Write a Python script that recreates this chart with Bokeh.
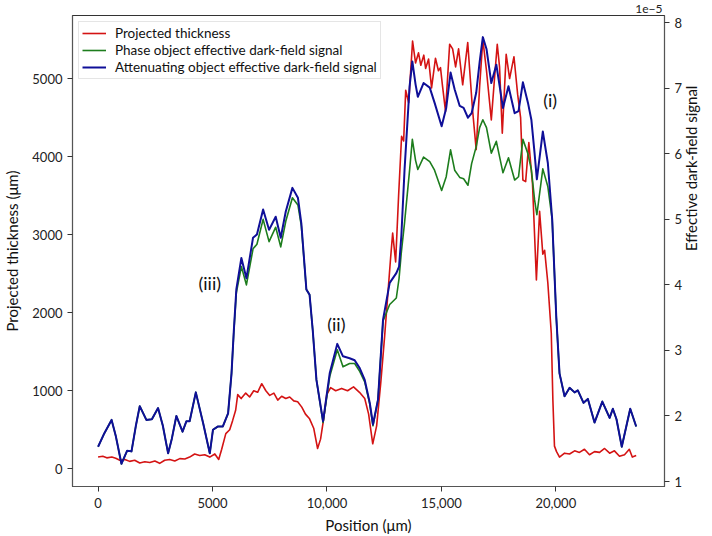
import math
from bokeh.plotting import figure
from bokeh.models import Range1d, LinearAxis, Label, FixedTicker, Title
from bokeh.embed import file_html
from bokeh.resources import INLINE

FONT = "Lato"

# Projected thickness (left axis, um)
red_pos = [0, 205, 380, 600, 770, 950, 1170, 1380, 1600, 1820, 2040, 2260, 2480, 2690, 2910,
           3130, 3350, 3570, 3790, 4000, 4220, 4440, 4660, 4880, 5100, 5270, 5400, 5580, 5750,
           5880, 6010, 6100, 6250, 6450, 6620, 6800, 6970, 7150, 7330, 7500, 7680, 7850, 8020,
           8200, 8370, 8550, 8720, 8900, 9060, 9240, 9420, 9590, 9720, 9860, 9990, 10160, 10380,
           10640, 10900, 11160, 11420, 11650, 11820, 12000, 12170, 12350, 12520, 12650, 12780,
           12870, 13000, 13130, 13260, 13350, 13440, 13570, 13740, 13870, 14000, 14100, 14230,
           14310, 14440, 14570, 14740, 14870, 14960, 15050, 15180, 15360, 15490, 15620, 15750,
           15930, 16150, 16360, 16520, 16670, 16810, 16970, 17180, 17320, 17440, 17540, 17660,
           17830, 17980, 18170, 18330, 18460, 18560, 18680, 18820, 18980, 19150, 19290, 19430,
           19510, 19650, 19800, 19870, 19940, 20030, 20160, 20380, 20600, 20820, 21030, 21250,
           21470, 21690, 21910, 22130, 22350, 22560, 22780, 23000, 23210, 23340, 23510]
red_val = [150, 160, 140, 150, 135, 110, 120, 95, 110, 75, 90, 80, 100, 70, 110,
           120, 100, 130, 125, 150, 190, 170, 180, 150, 190, 120, 250, 450, 500,
           620, 750, 950, 900, 970, 920, 1000, 980, 1090, 1000, 940, 970, 880, 930,
           900, 920, 870, 860, 790, 700, 640, 520, 260, 380, 650, 950, 1040, 1000,
           1030, 1000, 1050, 980, 900, 700, 320, 550, 1100, 1700, 2200, 2700,
           3020, 2650, 3500, 4260, 4200, 4850, 4690, 5480, 5200, 5330, 5170, 5300,
           5130, 5250, 4880, 5260, 5100, 5140, 4900, 4580, 5440, 5380, 5150, 5380,
           4920, 5460, 4600, 4090, 4900, 5500, 5100, 4470, 5000, 5440, 5150, 4300,
           5310, 5000, 5280, 4800, 4500, 3700, 3680, 4180, 3650, 2420, 3300, 2750,
           2800, 2380, 1740, 880, 290, 220, 150, 200, 190, 230, 210, 250,
           180, 220, 210, 260, 200, 230, 160, 180, 250, 150, 170]

# Effective dark-field signals (right axis, x 1e-5)
df_pos = [0, 250, 590, 770, 1020, 1270, 1460, 1650, 1820, 2110, 2350, 2620, 2830, 3060, 3220,
          3420, 3690, 3860, 4000, 4270, 4590, 4880, 5020, 5240, 5450, 5680, 5830, 5930, 6040,
          6260, 6480, 6770, 6940, 7210, 7470, 7760, 7980, 8200, 8490, 8730, 8880, 9100, 9240,
          9380, 9540, 9830, 10120, 10450, 10700, 10990, 11210, 11430, 11650, 11870, 12010,
          12230, 12450, 12740, 13030, 13150, 13250, 13390, 13610, 13730, 13870, 13970, 14220,
          14490, 14700, 15010, 15210, 15400, 15580, 15800, 15970, 16160, 16320, 16520, 16670,
          16810, 16970, 17180, 17400, 17690, 17930, 18200, 18370, 18560, 18780, 18930, 19070,
          19170, 19430, 19650, 19840, 20020, 20160, 20380, 20600, 20820, 20960, 21210, 21400,
          21690, 22030, 22350, 22490, 22650, 22880, 23250, 23510]
attenuating = [1.53, 1.72, 1.94, 1.70, 1.27, 1.47, 1.46, 1.85, 2.15, 1.94, 1.95, 2.12, 1.85, 1.43, 1.65,
               2.00, 1.76, 1.92, 1.92, 2.36, 1.89, 1.43, 1.79, 1.84, 1.84, 2.04, 2.65, 3.30, 3.93,
               4.41, 4.10, 4.72, 4.77, 5.15, 4.84, 5.04, 4.72, 5.12, 5.48, 5.33, 4.94, 3.93, 3.85,
               3.30, 2.55, 1.92, 2.65, 3.10, 2.91, 2.88, 2.85, 2.73, 2.55, 2.20, 1.87,
               2.25, 3.47, 4.03, 4.18, 4.28, 4.75, 5.76, 7.03, 7.41, 7.06, 6.87, 7.08,
               7.01, 6.78, 6.42, 6.70, 7.24, 6.98, 6.73, 6.70, 6.55, 6.62, 6.93, 7.40,
               7.78, 7.60, 7.08, 7.36, 6.70, 7.03, 6.62, 6.65, 7.09, 6.78, 6.52, 6.01,
               5.61, 6.34, 5.86, 5.00, 3.50, 2.65, 2.30, 2.43, 2.36, 2.39, 2.20, 2.26,
               1.90, 2.22, 1.97, 2.11, 1.95, 1.53, 2.11, 1.84]
phase = [1.53, 1.72, 1.94, 1.70, 1.27, 1.47, 1.46, 1.85, 2.15, 1.94, 1.95, 2.12, 1.85, 1.43, 1.65,
         2.00, 1.76, 1.92, 1.92, 2.36, 1.89, 1.43, 1.79, 1.84, 1.84, 2.04, 2.65, 3.28, 3.88,
         4.28, 4.00, 4.55, 4.62, 5.00, 4.66, 4.88, 4.58, 4.97, 5.33, 5.22, 4.90, 3.93, 3.85,
         3.30, 2.55, 1.90, 2.60, 3.01, 2.75, 2.80, 2.80, 2.68, 2.52, 2.18, 1.85,
         2.25, 3.45, 3.70, 3.80, 4.10, 4.50, 4.95, 5.75, 6.22, 5.90, 5.76, 5.95,
         5.88, 5.75, 5.44, 5.65, 6.06, 5.75, 5.64, 5.62, 5.52, 5.85, 6.11, 6.40,
         6.52, 6.40, 6.01, 6.19, 5.71, 5.94, 5.60, 5.65, 6.22, 6.00, 5.76, 5.30,
         5.07, 5.77, 5.50, 5.00, 3.50, 2.65, 2.30, 2.43, 2.36, 2.39, 2.20, 2.26,
         1.90, 2.22, 1.97, 2.11, 1.95, 1.53, 2.11, 1.84]

x_ticks = [0, 5000, 10000, 15000, 20000]
x_tick_labels = ["0", "5000", "10,000", "15,000", "20,000"]
left_ticks = [0, 1000, 2000, 3000, 4000, 5000]
right_ticks = [1, 2, 3, 4, 5, 6, 7, 8]

annotations = [("(iii)", 4880, 2385), ("(ii)", 10410, 1860), ("(i)", 19750, 4720)]

FW, FH = 592, 471
p = figure(frame_width=FW, frame_height=FH,
           x_range=Range1d(-1118, 24747), y_range=Range1d(-227, 5808),
           output_backend="svg", toolbar_location=None,
           min_border_left=65, min_border_top=0, min_border_right=39, min_border_bottom=5)
p.extra_y_ranges = {"df": Range1d(0.924, 8.11)}

# scale-factor text above the right axis
p.add_layout(Title(text="1e\u22125", align="right", offset=2, standoff=5,
                   text_font=FONT, text_font_size="12px", text_font_style="normal",
                   text_color="#222222"), "above")

p.xgrid.visible = False
p.ygrid.visible = False
p.outline_line_color = "#333333"
p.outline_line_width = 1.2
p.background_fill_color = "white"

rax = LinearAxis(y_range_name="df", axis_label="Effective dark-field signal")
p.add_layout(rax, "right")

for ax in [p.xaxis[0], p.yaxis[0], rax]:
    ax.minor_tick_line_color = None
    ax.major_tick_in = 0
    ax.major_tick_out = 5
    ax.major_tick_line_color = "#333333"
    ax.axis_line_color = "#555555"
    ax.major_label_text_font = FONT
    ax.major_label_text_font_size = "13px"
    ax.major_label_text_color = "#222222"
    ax.axis_label_text_font = FONT
    ax.axis_label_text_font_size = "15px"
    ax.axis_label_text_font_style = "normal"
    ax.axis_label_text_color = "#111111"
    ax.major_label_standoff = 5

p.xaxis[0].ticker = FixedTicker(ticks=x_ticks)
p.xaxis[0].major_label_overrides = {t: l for t, l in zip(x_ticks, x_tick_labels)}
p.xaxis[0].axis_label = "Position (μm)"
p.xaxis[0].major_label_standoff = 6
p.xaxis[0].axis_label_standoff = 5
p.yaxis[0].ticker = FixedTicker(ticks=left_ticks)
p.yaxis[0].axis_label = "Projected thickness (μm)"
p.yaxis[0].axis_label_standoff = 8
rax.ticker = FixedTicker(ticks=right_ticks)
rax.axis_label_standoff = 6
if "axis_label_orientation" in rax.properties():
    rax.axis_label_orientation = math.pi / 2

p.line(red_pos, red_val, color="#d41313", line_width=1.6, line_join="round",
       legend_label="Projected thickness")
p.line(df_pos, phase, color="#1d7d1d", line_width=1.6, line_join="round", y_range_name="df",
       legend_label="Phase object effective dark-field signal")
p.line(df_pos, attenuating, color="#0f0f98", line_width=2.0, line_join="round", y_range_name="df",
       legend_label="Attenuating object effective dark-field signal")

for txt, xx, yy in annotations:
    p.add_layout(Label(x=xx, y=yy, text=txt, text_align="center", text_baseline="middle",
                       text_font=FONT, text_font_size="18px", text_color="#111111"))

lg = p.legend[0]
lg.location = "top_left"
lg.margin = 6
lg.padding = 3
lg.spacing = 1
lg.glyph_width = 24
lg.glyph_height = 16
lg.label_height = 16
lg.label_standoff = 9
lg.label_text_font = FONT
lg.label_text_font_size = "13.5px"
lg.label_text_color = "#111111"
lg.border_line_color = "#cccccc"
lg.background_fill_alpha = 0.9

open("out.html", "w").write(file_html(p, INLINE))
